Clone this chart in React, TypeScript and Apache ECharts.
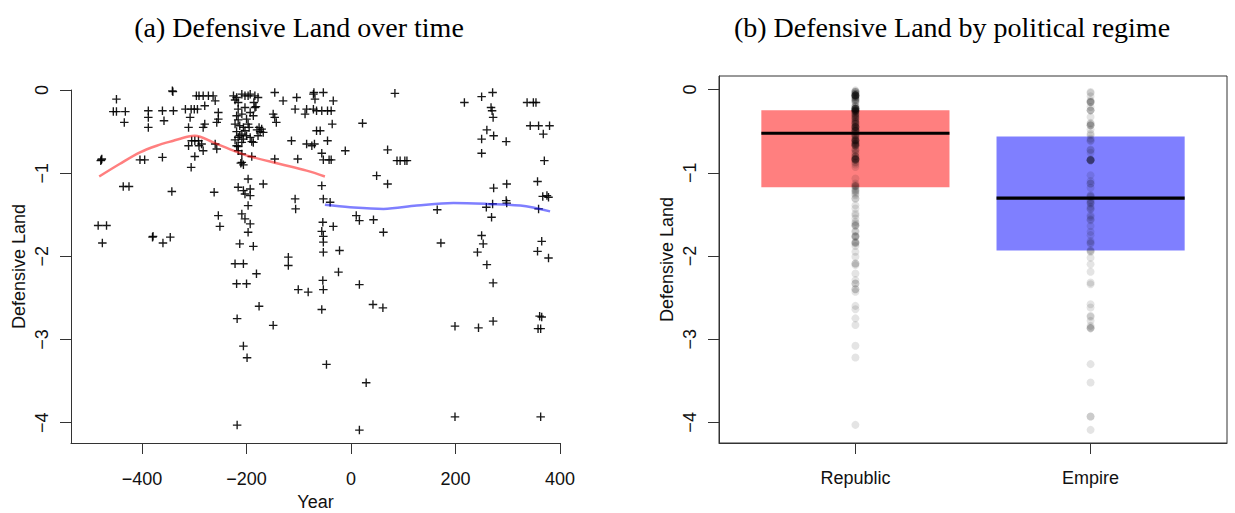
import React, { useEffect, useRef } from "react";
import * as echarts from "echarts";

// ---------- data ----------
const regimes = ["Republic", "Empire"];

// [year, defensive land] observations, Republic era
const republicObservations: [number, number][] = [
  [-478, -0.84], [-477, -0.83], [-479, -0.85],
  [-484, -1.63], [-468, -1.63], [-476, -1.84],
  [-449, -0.11], [-455, -0.26], [-449, -0.26], [-432, -0.26], [-434, -0.39],
  [-436, -1.16], [-425, -1.16],
  [-404, -0.84], [-395, -0.84],
  [-388, -0.25], [-388, -0.33], [-388, -0.45],
  [-380, -1.77], [-379, -1.76], [-360, -1.84], [-346, -1.77],
  [-361, -0.25], [-358, -0.37], [-361, -0.81],
  [-342, -0.01], [-341, -0.02], [-340, -0.25], [-343, -1.22],
  [-317, -0.23], [-306, -0.23], [-300, -0.23], [-294, -0.23],
  [-296, -0.07], [-291, -0.07], [-283, -0.07],
  [-308, -0.33], [-311, -0.45], [-283, -0.45],
  [-305, -0.61], [-299, -0.61], [-292, -0.61], [-311, -0.67], [-291, -0.67],
  [-299, -0.8], [-306, -0.93], [-283, -0.73],
  [-280, -0.19], [-273, -0.07], [-264, -0.07], [-260, -0.13],
  [-254, -0.27], [-254, -0.35], [-257, -0.39], [-280, -0.41],
  [-260, -0.65], [-257, -0.71], [-286, -0.65],
  [-262, -1.23], [-254, -1.51], [-251, -1.64],
  [-225, -0.07], [-219, -0.09], [-216, -0.15], [-209, -0.05], [-203, -0.07],
  [-197, -0.07], [-193, -0.05], [-184, -0.07], [-178, -0.09],
  [-216, -0.23], [-209, -0.29], [-219, -0.31], [-203, -0.21], [-193, -0.27],
  [-184, -0.21], [-187, -0.31],
  [-222, -0.41], [-213, -0.43], [-206, -0.45], [-197, -0.41], [-203, -0.49],
  [-209, -0.53], [-216, -0.57],
  [-206, -0.59], [-193, -0.57], [-209, -0.63], [-219, -0.67], [-216, -0.73],
  [-209, -0.77], [-187, -0.63],
  [-190, -0.8], [-209, -0.87],
  [-222, -0.12], [-216, -0.36], [-219, -0.5], [-213, -0.55], [-222, -0.6],
  [-216, -0.68], [-211, -0.88], [-206, -0.9],
  [-200, -0.35], [-200, -0.55], [-195, -0.45], [-190, -0.62], [-186, -0.15],
  [-182, -0.2], [-180, -0.48], [-178, -0.55], [-176, -0.45], [-174, -0.5],
  [-171, -0.47], [-168, -0.51],
  [-149, -0.29], [-146, -0.33], [-143, -0.39], [-146, -0.03], [-130, -0.13],
  [-104, -0.09], [-107, -0.23], [-85, -0.23], [-88, -0.29],
  [-72, -0.05], [-69, -0.11], [-66, -0.25], [-72, -0.23], [-56, -0.25],
  [-114, -0.61], [-85, -0.65], [-75, -0.67], [-70, -0.65], [-66, -0.49], [-59, -0.49],
  [-146, -0.83], [-102, -0.83],
  [-197, -1.07], [-168, -1.13],
  [-216, -1.17], [-206, -1.21], [-193, -1.19], [-203, -1.25], [-193, -1.27],
  [-107, -1.31], [-106, -1.43], [-56, -1.15], [-53, -1.31],
  [-197, -1.39], [-209, -1.49], [-203, -1.55], [-193, -1.61], [-197, -1.71],
  [-54, -1.59], [-56, -1.7], [-53, -1.76], [-53, -1.83], [-53, -1.95],
  [-213, -1.85], [-187, -1.88], [-222, -2.09], [-206, -2.09],
  [-120, -2.01], [-120, -2.11], [-181, -2.21],
  [-219, -2.33], [-200, -2.33], [-101, -2.4], [-82, -2.43], [-54, -2.29], [-53, -2.4],
  [-176, -2.6], [-218, -2.75], [-149, -2.83], [-56, -2.64],
  [-206, -3.08], [-199, -3.22], [-218, -4.03],
  [-71, -0.03], [-53, -0.03], [-56, -0.76], [-53, -0.84],
];

// [year, defensive land] observations, Empire era
const empireObservations: [number, number][] = [
  [-47, -3.3], [-45, -0.25], [-38, -0.25], [-34, -0.13], [-36, -0.41], [-45, -0.61],
  [-42, -0.84], [-38, -0.84], [-40, -1.35], [-34, -1.64], [-24, -2.19], [-22, -1.93],
  [-11, -0.73],
  [10, -1.51], [16, -1.57], [43, -1.56], [62, -1.71], [49, -1.03], [70, -1.13],
  [16, -2.34], [42, -2.58], [61, -2.62], [29, -3.52], [16, -4.09],
  [84, -0.04], [22, -0.4], [70, -0.72],
  [88, -0.85], [94, -0.85], [103, -0.85], [107, -0.85],
  [165, -1.44], [172, -1.84], [217, -0.15],
  [250, -0.08], [271, -0.03], [268, -0.21], [270, -0.25], [272, -0.33],
  [260, -0.48], [250, -0.59], [273, -0.55], [297, -0.62], [250, -0.76],
  [273, -1.18], [298, -1.13],
  [259, -1.41], [271, -1.37], [297, -1.33], [298, -1.36], [269, -1.53],
  [250, -1.75], [253, -1.85], [242, -1.95], [260, -2.1],
  [272, -2.32], [199, -2.84], [244, -2.86], [272, -2.78],
  [337, -0.15], [349, -0.15], [354, -0.15],
  [343, -0.43], [359, -0.43], [380, -0.43], [368, -0.53], [370, -0.85],
  [357, -1.1], [367, -1.28], [378, -1.29], [375, -1.27], [359, -1.43],
  [365, -1.82], [357, -1.94], [378, -2.02],
  [361, -2.72], [365, -2.73], [358, -2.87], [363, -2.87],
  [199, -3.93], [363, -3.93],
];

// smoothed (loess) trends
const republicTrend: [number, number][] = [
  [-482, -1.04], [-443, -0.89], [-404, -0.75], [-372, -0.67], [-340, -0.61],
  [-311, -0.56], [-299, -0.55], [-264, -0.63], [-225, -0.73], [-193, -0.8],
  [-136, -0.89], [-85, -0.97], [-50, -1.04],
];
const empireTrend: [number, number][] = [
  [-50, -1.38], [-2, -1.41], [62, -1.43], [126, -1.39], [196, -1.36],
  [260, -1.37], [324, -1.39], [381, -1.46],
];

// box summaries per regime
const boxLower = [-1.173, -1.933];
const boxMedian = [-0.525, -1.305];
const boxUpper = [-0.248, -0.565];
const boxColors = ["rgba(255,0,0,0.5)", "rgba(0,0,255,0.5)"];

const yearTicks = [-400, -200, 0, 200, 400];
const landTicks = [0, -1, -2, -3, -4];
const regimeTicks = [1, 2];

// ---------- helpers ----------
const fmt = (v: number) => (v < 0 ? "\u2212" + Math.abs(v) : String(v));
const axisColor = "#333";
const sans = "'Liberation Sans', Arial, Helvetica, sans-serif";
const serif = "'Liberation Serif', 'Times New Roman', serif";
const plusPath =
  "path://M4.2,0H5.8V4.2H10V5.8H5.8V10H4.2V5.8H0V4.2H4.2Z";

export default function App() {
  const ref = useRef<HTMLDivElement>(null);

  useEffect(() => {
    if (!ref.current) return;
    const chart = echarts.init(ref.current, undefined, { renderer: "svg" });

    const lineCommon = {
      show: true,
      onZero: false,
      lineStyle: { color: axisColor, width: 1 },
    };
    const tickCommon = (vals: number[]) => ({
      show: true,
      length: 11,
      inside: false,
      customValues: vals,
      lineStyle: { color: axisColor, width: 1 },
    });
    const landAxis = (gridIndex: number, min: number, max: number) => ({
      gridIndex,
      type: "value",
      min,
      max,
      name: "Defensive Land",
      nameLocation: "middle",
      nameGap: 43,
      nameTextStyle: { fontFamily: sans, fontSize: 18, color: "#111" },
      axisLine: lineCommon,
      axisTick: tickCommon(landTicks),
      axisLabel: {
        customValues: landTicks,
        formatter: fmt,
        rotate: 90,
        margin: 20,
        fontFamily: sans,
        fontSize: 18,
        color: "#111",
      },
      splitLine: { show: false },
    });

    const option: any = {
      animation: false,
      backgroundColor: "#ffffff",
      graphic: [
        {
          type: "text",
          x: 299,
          y: 27,
          style: {
            text: "(a) Defensive Land over time",
            fontFamily: serif,
            fontSize: 28,
            fill: "#000",
            align: "center",
            verticalAlign: "middle",
          },
        },
        {
          type: "text",
          x: 952,
          y: 27,
          style: {
            text: "(b) Defensive Land by political regime",
            fontFamily: serif,
            fontSize: 28,
            fill: "#000",
            align: "center",
            verticalAlign: "middle",
          },
        },
      ],
      grid: [
        { left: 71, top: 90, width: 489, height: 353, outerBoundsMode: "none" },
        {
          left: 719,
          top: 76,
          width: 508,
          height: 367,
          show: true,
          borderColor: axisColor,
          borderWidth: 1,
          backgroundColor: "transparent",
          outerBoundsMode: "none",
        },
      ],
      xAxis: [
        {
          gridIndex: 0,
          type: "value",
          min: -536,
          max: 400,
          name: "Year",
          nameLocation: "middle",
          nameGap: 48,
          nameTextStyle: { fontFamily: sans, fontSize: 18, color: "#111" },
          axisLine: lineCommon,
          axisTick: tickCommon(yearTicks),
          axisLabel: {
            customValues: yearTicks,
            formatter: fmt,
            margin: 27,
            fontFamily: sans,
            fontSize: 18,
            color: "#111",
          },
          splitLine: { show: false },
        },
        {
          gridIndex: 1,
          type: "value",
          min: 0.42,
          max: 2.58,
          axisLine: lineCommon,
          axisTick: tickCommon(regimeTicks),
          axisLabel: {
            customValues: regimeTicks,
            formatter: (v: number) => regimes[Math.round(v) - 1] ?? "",
            margin: 26,
            fontFamily: sans,
            fontSize: 18,
            color: "#111",
          },
          splitLine: { show: false },
        },
      ],
      yAxis: [landAxis(0, -4.245, 0), landAxis(1, -4.248, 0.163)],
      series: [
        {
          type: "scatter",
          xAxisIndex: 0,
          yAxisIndex: 0,
          data: [...republicObservations, ...empireObservations],
          symbol: plusPath,
          symbolSize: 8.5,
          itemStyle: { color: "#000", opacity: 0.9 },
          clip: false,
          silent: true,
          z: 2,
        },
        {
          type: "line",
          xAxisIndex: 0,
          yAxisIndex: 0,
          data: republicTrend,
          smooth: 0.35,
          showSymbol: false,
          lineStyle: { color: "rgba(255,0,0,0.5)", width: 2.5 },
          silent: true,
          z: 3,
        },
        {
          type: "line",
          xAxisIndex: 0,
          yAxisIndex: 0,
          data: empireTrend,
          smooth: 0.35,
          showSymbol: false,
          lineStyle: { color: "rgba(0,0,255,0.5)", width: 2.5 },
          silent: true,
          z: 3,
        },
        {
          type: "custom",
          xAxisIndex: 1,
          yAxisIndex: 1,
          data: regimes.map((_, k) => [k + 1, boxLower[k], boxMedian[k], boxUpper[k]]),
          encode: { x: 0, y: [1, 2, 3] },
          silent: true,
          z: 2,
          renderItem: (params: any, api: any) => {
            const idx = params.dataIndex;
            const c = api.value(0);
            const lo = api.value(1);
            const med = api.value(2);
            const hi = api.value(3);
            const tl = api.coord([c - 0.4, hi]);
            const br = api.coord([c + 0.4, lo]);
            const ml = api.coord([c - 0.4, med]);
            const mr = api.coord([c + 0.4, med]);
            return {
              type: "group",
              children: [
                {
                  type: "rect",
                  shape: { x: tl[0], y: tl[1], width: br[0] - tl[0], height: br[1] - tl[1] },
                  style: { fill: boxColors[idx] },
                },
                {
                  type: "line",
                  shape: { x1: ml[0], y1: ml[1], x2: mr[0], y2: mr[1] },
                  style: { stroke: "#000", lineWidth: 3.2 },
                },
              ],
            };
          },
        },
        {
          type: "scatter",
          xAxisIndex: 1,
          yAxisIndex: 1,
          data: [
            ...republicObservations.map((o) => [1, o[1]]),
            ...empireObservations.map((o) => [2, o[1]]),
          ],
          symbol: "circle",
          symbolSize: 8,
          itemStyle: { color: "rgba(0,0,0,0.13)" },
          silent: true,
          z: 4,
        },
      ],
    };

    chart.setOption(option);
    return () => chart.dispose();
  }, []);

  return (
    <div
      ref={ref}
      style={{ position: "fixed", left: 0, top: 0, width: 1235, height: 513, background: "#fff" }}
    />
  );
}
